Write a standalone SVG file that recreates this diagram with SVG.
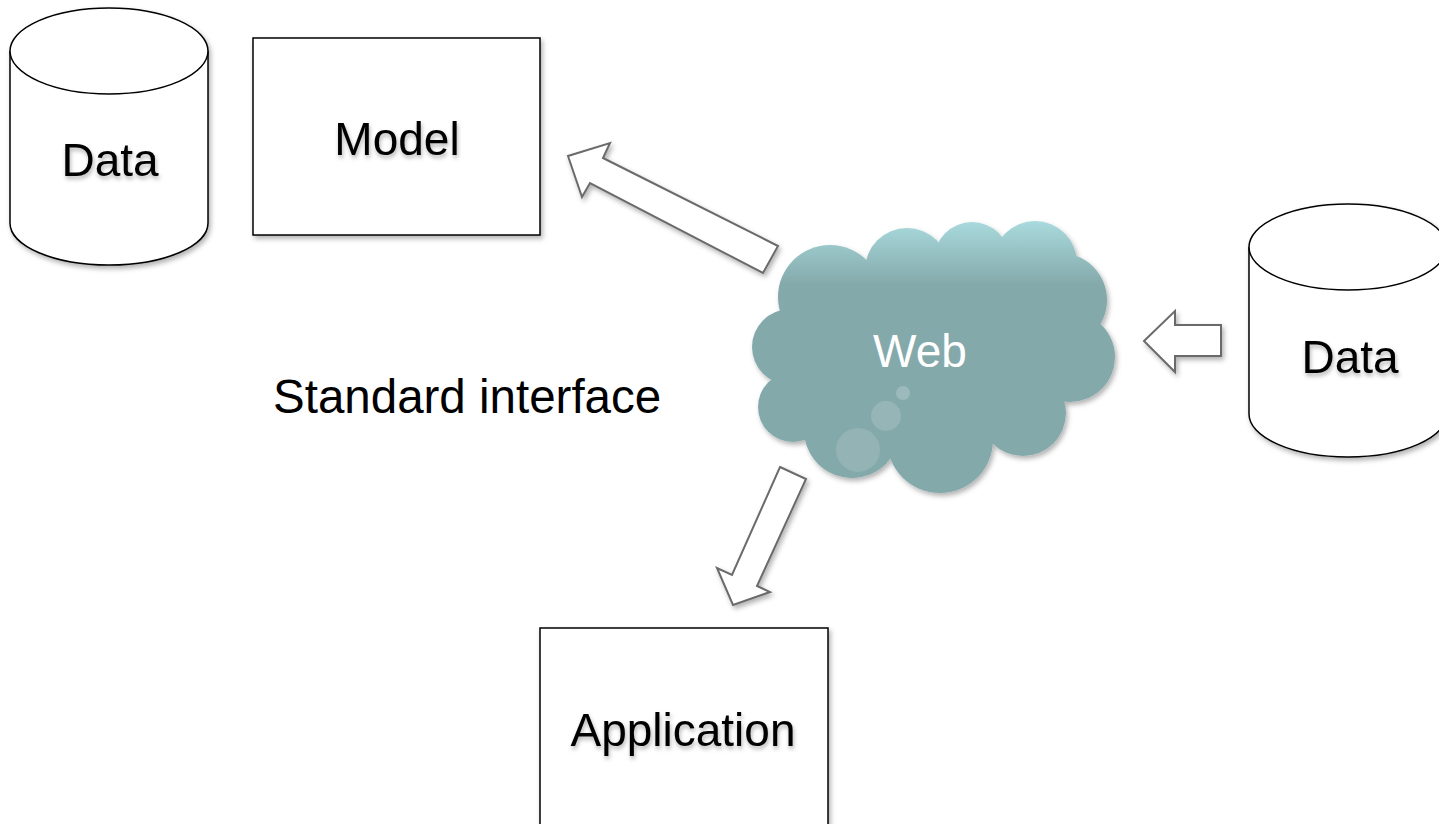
<svg xmlns="http://www.w3.org/2000/svg" width="1439" height="824" viewBox="0 0 1439 824">
  <defs>
    <filter id="shadow" x="-10%" y="-10%" width="130%" height="130%">
      <feDropShadow dx="2" dy="3" stdDeviation="2.5" flood-color="#000" flood-opacity="0.3"/>
    </filter>
    <filter id="tshadow" x="-10%" y="-20%" width="130%" height="160%">
      <feDropShadow dx="1" dy="3" stdDeviation="2" flood-color="#000" flood-opacity="0.3"/>
    </filter>
    <linearGradient id="cloudGrad" gradientUnits="userSpaceOnUse" x1="0" y1="221" x2="0" y2="285">
      <stop offset="0" stop-color="#a9dadd"/>
      <stop offset="1" stop-color="#84a9ab"/>
    </linearGradient>
  </defs>
  <style>
    .shape { fill: #fff; stroke: #000; stroke-width: 1.5; }
    .arrow { fill: #fff; stroke: #6b6b6b; stroke-width: 2; stroke-linejoin: miter; }
    .label { font-family: "Liberation Sans", Arial, sans-serif; font-size: 46px; fill: #000; text-anchor: middle; }
    .bubble { fill: #ffffff; }
  </style>

  <rect width="1439" height="824" fill="#fff"/>

  <g id="data-left">
    <g filter="url(#shadow)">
      <path class="shape" d="M10,51 L10,223 A99,42 0 0 0 208,223 L208,51 A99,43 0 0 0 10,51 Z"/>
      <path class="shape" d="M10,51 A99,43 0 0 0 208,51" fill="none"/>
    </g>
    <text class="label" x="110" y="176" filter="url(#tshadow)">Data</text>
  </g>

  <g id="model">
    <rect class="shape" x="253" y="38" width="287" height="197" filter="url(#shadow)"/>
    <text class="label" x="397" y="155" filter="url(#tshadow)">Model</text>
  </g>

  <g id="data-right">
    <g filter="url(#shadow)">
      <path class="shape" d="M1249,247 L1249,414 A99,43 0 0 0 1447,414 L1447,247 A99,43 0 0 0 1249,247 Z"/>
      <path class="shape" d="M1249,247 A99,43 0 0 0 1447,247" fill="none"/>
    </g>
    <text class="label" x="1350" y="373" filter="url(#tshadow)">Data</text>
  </g>

  <g id="application">
    <rect class="shape" x="540" y="628" width="288" height="210" filter="url(#shadow)"/>
    <text class="label" x="683" y="746" filter="url(#tshadow)">Application</text>
  </g>

  <g id="web">
    <g filter="url(#shadow)" fill="url(#cloudGrad)">
      <ellipse cx="935" cy="360" rx="140" ry="92"/>
      <circle cx="790" cy="347" r="38"/>
      <circle cx="830" cy="297" r="52"/>
      <circle cx="907" cy="270" r="42"/>
      <circle cx="972" cy="260" r="38"/>
      <circle cx="1035" cy="263" r="42"/>
      <circle cx="1060" cy="300" r="47"/>
      <circle cx="1070" cy="357" r="45"/>
      <circle cx="1023" cy="413" r="43"/>
      <circle cx="940" cy="440" r="53"/>
      <circle cx="852" cy="430" r="48"/>
      <circle cx="793" cy="407" r="35"/>
    </g>
    <circle class="bubble" cx="903" cy="393" r="7" opacity="0.2"/>
    <circle class="bubble" cx="886" cy="416" r="15" opacity="0.15"/>
    <circle class="bubble" cx="858" cy="450" r="22" opacity="0.12"/>
    <text class="label" x="920" y="367" style="fill:#fff">Web</text>
  </g>

  <text id="standard-interface" class="label" x="273" y="413" style="text-anchor:start;font-size:47.5px">Standard interface</text>

  <g id="connectors" filter="url(#shadow)">
    <path class="arrow" d="M603,158 L778,246 L763,273 L590,183 L582,197 L568,156 L610,143 Z"/>
    <path class="arrow" d="M1221,325 L1221,356 L1175,356 L1175,372 L1144,341 L1175,311 L1175,325 Z"/>
    <path class="arrow" d="M780,467 L806,479 L757,586 L770,592 L733,605 L717,568 L732,575 Z"/>
  </g>
</svg>
